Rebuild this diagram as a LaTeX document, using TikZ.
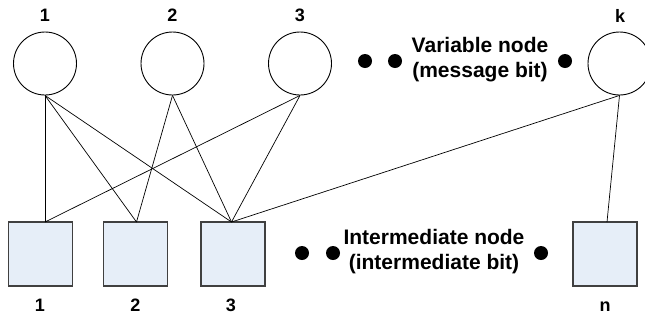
\documentclass[tikz,border=0pt]{standalone}
\usepackage{fontspec}
\setmainfont{Liberation Sans}
\definecolor{sqfill}{HTML}{E6EEF8}
\definecolor{sqdraw}{HTML}{404040}
\begin{document}
\begin{tikzpicture}[x=1pt,y=-1pt,
  varnode/.style={draw=black,line width=0.9pt,circle,minimum size=63pt,inner sep=0pt,fill=white},
  chknode/.style={draw=sqdraw,line width=1.1pt,fill=sqfill,minimum width=64pt,minimum height=64pt,inner sep=0pt},
  lbl/.style={font=\bfseries\fontsize{18}{20}\selectfont,inner sep=0pt},
  txt/.style={font=\bfseries\fontsize{21}{25}\selectfont,align=center,inner sep=0pt},
  bdot/.style={circle,fill=black,minimum size=14pt,inner sep=0pt},
  edge/.style={line width=0.7pt}]
\useasboundingbox (0,0) rectangle (645,325);
\begin{scope}
\clip (0,0) rectangle (645,325);
% variable nodes
\node[varnode] (v1) at (45,63.5) {};
\node[varnode] (v2) at (172.5,63.5) {};
\node[varnode] (v3) at (300,63.5) {};
\node[varnode] (vk) at (619.5,63.5) {};
% intermediate nodes
\node[chknode] (c1) at (40.5,254) {};
\node[chknode] (c2) at (135.5,254) {};
\node[chknode] (c3) at (233,254) {};
\node[chknode] (cn) at (605,254) {};
% attachment points
\coordinate (a1) at (45,222);
\coordinate (a2) at (136.5,222);
\coordinate (a3) at (231.5,222);
\coordinate (an) at (607,222);
% edges
\draw[edge] (v1.south) -- (a1);
\draw[edge] (v1.south) -- (a2);
\draw[edge] (v1.south) -- (a3);
\draw[edge] (v2.south) -- (a2);
\draw[edge] (v2.south) -- (a3);
\draw[edge] (v3.south) -- (a1);
\draw[edge] (v3.south) -- (a3);
\draw[edge] (vk.south) -- (a3);
\draw[edge] (vk.south) -- (an);
% labels
\node[lbl] (l1) at (45,15) {1};
\node[lbl] (l2) at (172.5,15) {2};
\node[lbl] (l3) at (300,15) {3};
\node[lbl] (lk) at (620,16) {k};
\node[lbl] (b1) at (40,305) {1};
\node[lbl] (b2) at (135.5,305) {2};
\node[lbl] (b3) at (231,305) {3};
\node[lbl] (bn) at (605,307) {n};
% dots and text
\node[bdot] (d1) at (365,61) {};
\node[bdot] (d2) at (395,61) {};
\node[bdot] (d3) at (565,61) {};
\node[txt] (vt) at (480,60) {Variable node\\(message bit)};
\node[bdot] (e1) at (302,253) {};
\node[bdot] (e2) at (333,253) {};
\node[bdot] (e3) at (541,253) {};
\node[txt] (it) at (434,252) {Intermediate node\\(intermediate bit)};
\end{scope}
\end{tikzpicture}
\end{document}
